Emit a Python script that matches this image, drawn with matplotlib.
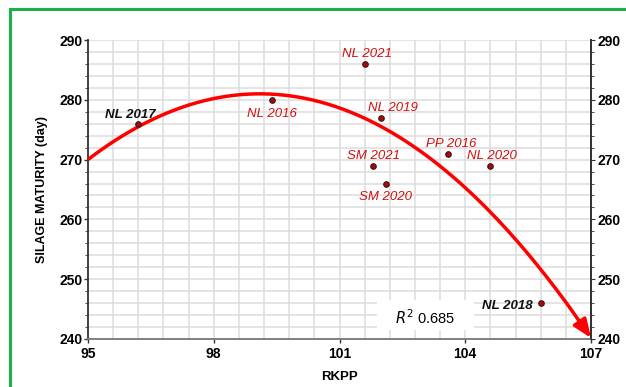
import numpy as np
import matplotlib.pyplot as plt
from matplotlib.patches import Rectangle

plt.rcParams['font.family'] = ['Liberation Sans', 'DejaVu Sans']

# ----- Daten ---------------------------------------------------------------
labels = ["NL 2017", "NL 2016", "NL 2021", "NL 2019", "SM 2021",
          "SM 2020", "PP 2016", "NL 2020", "NL 2018"]
rkpp = [96.2, 99.4, 101.6, 102.0, 101.8, 102.1, 103.6, 104.6, 105.8]
maturity = [276, 280, 286, 277, 269, 266, 271, 269, 246]
label_black = [True, False, False, False, False, False, False, False, True]

# Trendlinie (quadratisch)
trend_peak_x = 99.1
trend_peak_y = 281.0
trend_a = -0.654
r2 = 0.685

x_ticks = [95, 98, 101, 104, 107]
y_ticks = [240, 250, 260, 270, 280, 290]

fig = plt.figure(figsize=(6.26, 3.87), dpi=100)
ax = fig.add_axes([88 / 626, 1 - 339 / 387, (591 - 88) / 626, (339 - 40) / 387])

# Grüner Rahmen
fig.patches.append(Rectangle((10 / 626, -0.1), 1.2, 1 - 9 / 387 + 0.1,
                             transform=fig.transFigure, fill=False,
                             edgecolor="#1db04a", linewidth=2.2))

ax.set_xlim(95, 107)
ax.set_ylim(240, 290)
ax.set_xticks(x_ticks)
ax.set_yticks(y_ticks)
ax.set_xticks(np.arange(95, 107.01, 0.6), minor=True)
ax.set_yticks(np.arange(240, 290.01, 2), minor=True)
ax.grid(True, which="both", color="#dcdcdc", linewidth=1.1)
ax.set_axisbelow(True)
ax.tick_params(axis="x", which="minor", length=0)
ax.tick_params(axis="y", which="minor", length=2, color="#333333")
ax.tick_params(axis="both", which="major", length=3, width=1, color="#333333",
               labelsize=10, pad=1)
ax.tick_params(axis="x", which="major", pad=3)
for lab in ax.get_xticklabels() + ax.get_yticklabels():
    lab.set_fontweight("bold")

ax.spines["top"].set_visible(False)
ax.spines["left"].set_color("#333333")
ax.spines["left"].set_linewidth(1.3)
ax.spines["bottom"].set_color("#777777")
ax.spines["bottom"].set_linewidth(1.3)
ax.spines["right"].set_color("#333333")
ax.spines["right"].set_linewidth(1.3)

ax2 = ax.twinx()
ax2.set_ylim(240, 290)
ax2.set_yticks(y_ticks)
ax2.set_yticks(np.arange(240, 290.01, 2), minor=True)
ax2.tick_params(axis="y", which="minor", length=2, color="#333333")
ax2.tick_params(axis="y", which="major", length=3, color="#333333",
                labelsize=10, pad=2)
for lab in ax2.get_yticklabels():
    lab.set_fontweight("bold")
for s in ["top", "left", "bottom"]:
    ax2.spines[s].set_visible(False)
ax2.spines["right"].set_color("#333333")
ax2.spines["right"].set_linewidth(1.3)

ax.set_xlabel("RKPP", fontsize=9.5, fontweight="bold", labelpad=7)
ax.set_ylabel("SILAGE MATURITY (day)", fontsize=9, fontweight="bold", labelpad=8)

# Trendlinie mit Pfeil am Ende
xs = np.linspace(95, 106.5, 200)
ys = trend_a * (xs - trend_peak_x) ** 2 + trend_peak_y
ax.plot(xs, ys, color="red", linewidth=2.5, solid_capstyle="butt", zorder=3,
        clip_on=False)
y_end = trend_a * (107 - trend_peak_x) ** 2 + trend_peak_y
ax.annotate("", xy=(107, y_end), xytext=(xs[-1], ys[-1]),
            arrowprops=dict(arrowstyle="-|>,head_length=1.1,head_width=0.45",
                            color="red", linewidth=2.5, shrinkA=0, shrinkB=0),
            annotation_clip=False, zorder=3)

# Punkte
ax.scatter(rkpp, maturity, s=16, color="#c00000", edgecolors="#222222",
           linewidths=0.8, zorder=4)

# Beschriftungen (Offsets in Punkten)
offsets = {
    "NL 2017": (-6, 6, "center"),
    "NL 2016": (0, -10, "center"),
    "NL 2021": (2, 7, "center"),
    "NL 2019": (8, 7, "center"),
    "SM 2021": (0, 7, "center"),
    "SM 2020": (0, -10, "center"),
    "PP 2016": (2, 7, "center"),
    "NL 2020": (1, 7, "center"),
    "NL 2018": (-6, -2, "right"),
}
for lab, x, y, black in zip(labels, rkpp, maturity, label_black):
    dx, dy, ha = offsets[lab]
    ax.annotate(lab, (x, y), xytext=(dx, dy), textcoords="offset points",
                ha=ha, va="center", fontsize=9.5, fontstyle="italic",
                fontweight="bold" if black else "normal",
                color="#111111" if black else "#d01010", zorder=5)

# R²-Kasten
ax.add_patch(Rectangle((101.9, 241.5), 2.3, 5.0, facecolor="white",
                       edgecolor="none", zorder=4))
ax.text(103.05, 243.6, r"$R^2$" + f" {r2}", fontsize=10.5, ha="center",
        va="center", zorder=5)

fig.savefig("out.png", dpi=100)
